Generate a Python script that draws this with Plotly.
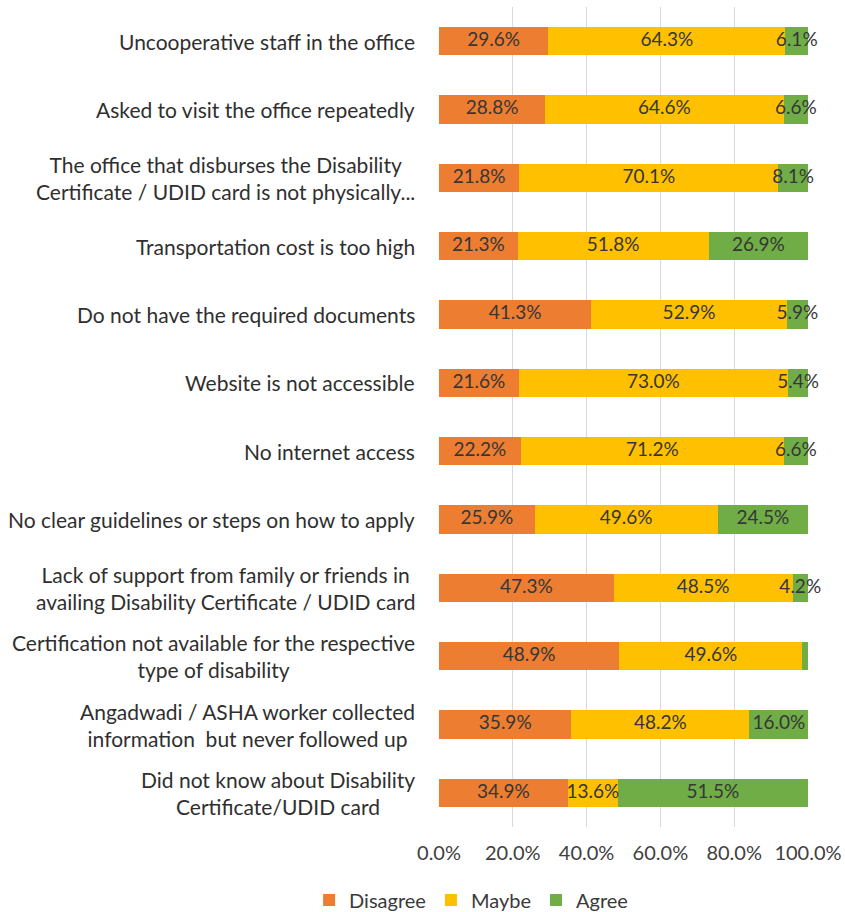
import plotly.graph_objects as go

# Barriers to obtaining a Disability Certificate / UDID card (share of respondents, %)
categories = [
    "Uncooperative staff in the office",
    "Asked to visit the office repeatedly",
    "The office that disburses the Disability<br>Certificate / UDID card is not physically...",
    "Transportation cost is too high",
    "Do not have the required documents",
    "Website is not accessible",
    "No internet access",
    "No clear guidelines or steps on how to apply",
    "Lack of support from family or friends in<br>availing Disability Certificate / UDID card",
    "Certification not available for the respective<br>type of disability",
    "Angadwadi / ASHA worker collected<br>information  but never followed up",
    "Did not know about Disability<br>Certificate/UDID card",
]

disagree = [29.6, 28.8, 21.8, 21.3, 41.3, 21.6, 22.2, 25.9, 47.3, 48.9, 35.9, 34.9]
maybe = [64.3, 64.6, 70.1, 51.8, 52.9, 73.0, 71.2, 49.6, 48.5, 49.6, 48.2, 13.6]
agree = [6.1, 6.6, 8.1, 26.9, 5.9, 5.4, 6.6, 24.5, 4.2, 1.5, 16.0, 51.5]
agree_labelled = [True] * 9 + [False] + [True] * 2

tick_values = [0, 20, 40, 60, 80, 100]
tick_labels = ["0.0%", "20.0%", "40.0%", "60.0%", "80.0%", "100.0%"]

series = [
    ("Disagree", disagree, "#ED7D31", [True] * len(disagree)),
    ("Maybe", maybe, "#FFC000", [True] * len(maybe)),
    ("Agree", agree, "#70AD47", agree_labelled),
]

FONT = "Lato"
TEXT_COLOR = "#363636"

fig = go.Figure()
base = [0.0] * len(categories)
for name, values, color, show in series:
    fig.add_trace(go.Bar(
        name=name,
        y=categories,
        x=values,
        orientation="h",
        marker=dict(color=color, line=dict(width=0)),
        textposition="none",
        hoverinfo="skip",
    ))
    # value labels centred on each segment, allowed to spill past narrow ones
    mids = [b + v / 2 for b, v in zip(base, values)]
    fig.add_trace(go.Scatter(
        x=[m for m, s in zip(mids, show) if s],
        y=[c for c, s in zip(categories, show) if s],
        text=[f"{v:.1f}%" for v, s in zip(values, show) if s],
        mode="text",
        textposition="middle center",
        textfont=dict(family=FONT, size=19, color=TEXT_COLOR),
        cliponaxis=False,
        showlegend=False,
        hoverinfo="skip",
    ))
    base = [b + v for b, v in zip(base, values)]

# Category labels: right-aligned blocks, centred line by line
for cat in categories:
    fig.add_annotation(
        x=0, xref="paper", y=cat, yref="y",
        text=cat, showarrow=False,
        xanchor="right", align="center", xshift=-22,
        font=dict(family=FONT, size=21, color="#2f2f2f"),
    )

fig.update_layout(
    barmode="stack",
    bargap=0.59,
    width=845,
    height=912,
    margin=dict(l=439, r=37, t=7, b=85, autoexpand=False),
    paper_bgcolor="white",
    plot_bgcolor="white",
    showlegend=True,
    legend=dict(
        orientation="h",
        x=-0.352, xanchor="left",
        y=-0.089, yanchor="middle",
        font=dict(family=FONT, size=20, color="#3a3a3a"),
        itemsizing="constant",
        traceorder="normal",
    ),
    xaxis=dict(
        range=[0, 100],
        tickvals=tick_values,
        ticktext=tick_labels,
        showgrid=True,
        gridcolor="#d9d9d9",
        gridwidth=1,
        zeroline=False,
        showline=False,
        ticks="",
        ticklabelstandoff=12,
        tickfont=dict(family=FONT, size=20, color="#404040"),
        fixedrange=True,
    ),
    yaxis=dict(
        range=[len(categories) - 0.5, -0.5],
        showticklabels=False,
        showgrid=False,
        zeroline=False,
        showline=False,
        ticks="",
        fixedrange=True,
    ),
)

fig.write_html("out.html")
